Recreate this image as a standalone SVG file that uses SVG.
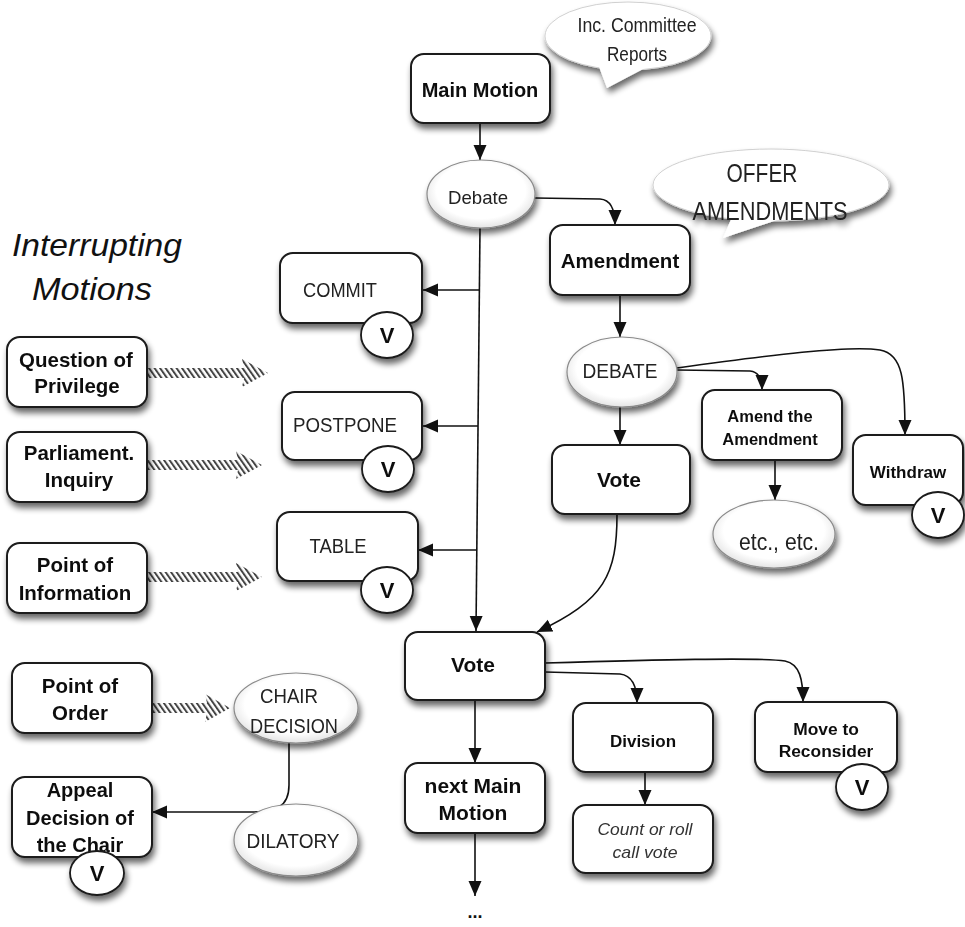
<svg xmlns="http://www.w3.org/2000/svg" width="965" height="927" viewBox="0 0 965 927">
<defs>
<filter id="sh" x="-20%" y="-20%" width="150%" height="160%">
<feGaussianBlur in="SourceAlpha" stdDeviation="3"/>
<feOffset dx="2" dy="5" result="o"/>
<feComponentTransfer><feFuncA type="linear" slope="0.6"/></feComponentTransfer>
<feMerge><feMergeNode/><feMergeNode in="SourceGraphic"/></feMerge>
</filter>
<radialGradient id="eg" cx="50%" cy="45%" r="55%">
<stop offset="0.75" stop-color="#ffffff"/>
<stop offset="1" stop-color="#e4e4e4"/>
</radialGradient>
<pattern id="hatch" patternUnits="userSpaceOnUse" width="4.5" height="4.5" patternTransform="rotate(-35)">
<rect x="0" y="0" width="2" height="4.5" fill="#444"/>
</pattern>
<marker id="ah" markerUnits="userSpaceOnUse" markerWidth="16" markerHeight="14" refX="15" refY="6.5" orient="auto">
<path d="M0,0 L15,6.5 L0,13 z" fill="#111"/>
</marker>
<style>
.box{fill:#fff;stroke:#1a1a1a;stroke-width:2}
.ell{fill:url(#eg);stroke:#8a8a8a;stroke-width:1.2}
.bub{fill:#fff;stroke:#d0d0d0;stroke-width:1}
.vc{fill:#fff;stroke:#1a1a1a;stroke-width:1.8}
.b{font-family:"Liberation Sans",Arial,sans-serif;font-weight:bold;fill:#111;text-anchor:middle}
.r{font-family:"Liberation Sans",Arial,sans-serif;fill:#222;text-anchor:middle}
.i{font-family:"Liberation Sans",Arial,sans-serif;font-style:italic;fill:#333;text-anchor:middle}
.v{font-family:"Liberation Sans",Arial,sans-serif;font-weight:bold;fill:#111;text-anchor:middle;font-size:22px}
.ca{fill:none;stroke:#111;stroke-width:1.6;marker-end:url(#ah)}
.h{fill:url(#hatch)}
</style>
</defs>
<rect width="965" height="927" fill="#fff"/>

<g id="title">
<text class="i" x="97" y="256" font-size="32" textLength="170" lengthAdjust="spacingAndGlyphs" style="fill:#111">Interrupting</text>
<text class="i" x="92" y="300" font-size="32" textLength="120" lengthAdjust="spacingAndGlyphs" style="fill:#111">Motions</text>
</g>

<g id="connectors">
<path class="ca" d="M480,123 L480,160"/>
<path class="ca" d="M535,198 L600,199 Q615,200 615,225"/>
<path class="ca" d="M480,228 L476,631"/>
<path class="ca" d="M479,290 L423,290"/>
<path class="ca" d="M478,426 L423,426"/>
<path class="ca" d="M477,550 L418,550"/>
<path class="ca" d="M620,295 L620,337"/>
<path class="ca" d="M620,407 L620,445"/>
<path class="ca" d="M677,370 L750,371 Q762,372 762,390"/>
<path class="ca" d="M677,368 C770,355 850,345 880,350 C903,354 905,380 905,435"/>
<path class="ca" d="M775,460 L775,500"/>
<path class="ca" d="M617,514 C617,575 605,600 537,632"/>
<path class="ca" d="M475,700 L475,763"/>
<path class="ca" d="M475,833 L475,896"/>
<path class="ca" d="M545,672 L620,674 Q637,676 637,703"/>
<path class="ca" d="M545,663 C650,660 760,657 785,661 C800,664 803,680 803,702"/>
<path class="ca" d="M645,772 L645,805"/>
<path class="ca" d="M289,743 L289,785 C289,808 275,812 250,812 L152,812"/>
<polygon class="h" points="148,368 244,368 242,359 268,373 242,387 244,378 148,378"/>
<polygon class="h" points="148,460 238,460 236,451 262,465 236,479 238,470 148,470"/>
<polygon class="h" points="148,572 238,572 236,563 262,577 236,591 238,582 148,582"/>
<polygon class="h" points="153,703 207,703 205,694 230,708 205,722 207,713 153,713"/>
</g>

<g id="inc-committee" filter="url(#sh)">
<ellipse class="bub" cx="628" cy="36" rx="83" ry="34"/>
<polygon points="598,64 607,88 645,68" fill="#fff"/>
<text class="r" x="637" y="32" font-size="21" textLength="119" lengthAdjust="spacingAndGlyphs">Inc. Committee</text>
<text class="r" x="637" y="61" font-size="21" textLength="60" lengthAdjust="spacingAndGlyphs">Reports</text>
</g>

<g id="main-motion" filter="url(#sh)">
<rect class="box" x="411" y="54" width="139" height="69" rx="13"/>
<text class="b" x="480" y="97" font-size="20">Main Motion</text>
</g>

<g id="debate" filter="url(#sh)">
<ellipse class="ell" cx="481" cy="194" rx="54" ry="34"/>
<text class="r" x="478" y="204" font-size="19" textLength="60" lengthAdjust="spacingAndGlyphs">Debate</text>
</g>

<g id="offer-amendments" filter="url(#sh)">
<ellipse class="bub" cx="771" cy="185" rx="118" ry="36"/>
<polygon points="733,215 723,238 780,219" fill="#fff"/>
<text class="r" x="762" y="182" font-size="26" textLength="71" lengthAdjust="spacingAndGlyphs">OFFER</text>
<text class="r" x="770" y="220" font-size="26" textLength="155" lengthAdjust="spacingAndGlyphs">AMENDMENTS</text>
</g>

<g id="amendment" filter="url(#sh)">
<rect class="box" x="550" y="225" width="140" height="70" rx="13"/>
<text class="b" x="620" y="268" font-size="20.5">Amendment</text>
</g>

<g id="commit" filter="url(#sh)">
<rect class="box" x="280" y="253" width="142" height="70" rx="13"/>
<text class="r" x="340" y="297" font-size="20" textLength="74" lengthAdjust="spacingAndGlyphs">COMMIT</text>
<ellipse class="vc" cx="387" cy="335" rx="26" ry="23"/>
<text class="v" x="387" y="343">V</text>
</g>

<g id="postpone" filter="url(#sh)">
<rect class="box" x="282" y="392" width="140" height="68" rx="13"/>
<text class="r" x="345" y="432" font-size="20" textLength="104" lengthAdjust="spacingAndGlyphs">POSTPONE</text>
<ellipse class="vc" cx="388" cy="469" rx="26" ry="23"/>
<text class="v" x="388" y="477">V</text>
</g>

<g id="table" filter="url(#sh)">
<rect class="box" x="277" y="512" width="141" height="69" rx="13"/>
<text class="r" x="338" y="553" font-size="20" textLength="57" lengthAdjust="spacingAndGlyphs">TABLE</text>
<ellipse class="vc" cx="387" cy="590" rx="26" ry="23"/>
<text class="v" x="387" y="598">V</text>
</g>

<g id="question-of-privilege" filter="url(#sh)">
<rect class="box" x="7" y="337" width="140" height="70" rx="13"/>
<text class="b" x="76" y="367" font-size="20.5">Question of</text>
<text class="b" x="77" y="393" font-size="20.5">Privilege</text>
</g>

<g id="parliament-inquiry" filter="url(#sh)">
<rect class="box" x="7" y="432" width="140" height="70" rx="13"/>
<text class="b" x="79" y="460" font-size="20.5">Parliament.</text>
<text class="b" x="79" y="487" font-size="20.5">Inquiry</text>
</g>

<g id="point-of-information" filter="url(#sh)">
<rect class="box" x="7" y="543" width="140" height="70" rx="13"/>
<text class="b" x="75" y="572" font-size="20.5">Point of</text>
<text class="b" x="75" y="600" font-size="20.5">Information</text>
</g>

<g id="debate-amendment" filter="url(#sh)">
<ellipse class="ell" cx="622" cy="372" rx="55" ry="35"/>
<text class="r" x="620" y="378" font-size="20" textLength="75" lengthAdjust="spacingAndGlyphs">DEBATE</text>
</g>

<g id="vote-amendment" filter="url(#sh)">
<rect class="box" x="552" y="445" width="138" height="69" rx="13"/>
<text class="b" x="619" y="487" font-size="21">Vote</text>
</g>

<g id="amend-the-amendment" filter="url(#sh)">
<rect class="box" x="702" y="390" width="140" height="70" rx="13"/>
<text class="b" x="770" y="422" font-size="16.5">Amend the</text>
<text class="b" x="770" y="445" font-size="16.5">Amendment</text>
</g>

<g id="withdraw" filter="url(#sh)">
<rect class="box" x="853" y="435" width="110" height="70" rx="13"/>
<text class="b" x="908" y="478" font-size="17">Withdraw</text>
<ellipse class="vc" cx="938" cy="515" rx="26" ry="23"/>
<text class="v" x="938" y="523">V</text>
</g>

<g id="etc" filter="url(#sh)">
<ellipse class="ell" cx="774" cy="534" rx="61" ry="34"/>
<text class="r" x="779" y="550" font-size="24" textLength="80" lengthAdjust="spacingAndGlyphs">etc., etc.</text>
</g>

<g id="vote" filter="url(#sh)">
<rect class="box" x="405" y="632" width="140" height="68" rx="13"/>
<text class="b" x="473" y="672" font-size="21">Vote</text>
</g>

<g id="division" filter="url(#sh)">
<rect class="box" x="573" y="703" width="140" height="69" rx="13"/>
<text class="b" x="643" y="747" font-size="17">Division</text>
</g>

<g id="count-or-roll-call" filter="url(#sh)">
<rect class="box" x="573" y="805" width="140" height="68" rx="13"/>
<text class="i" x="645" y="835" font-size="17" textLength="95" lengthAdjust="spacingAndGlyphs">Count or roll</text>
<text class="i" x="645" y="858" font-size="17" textLength="65" lengthAdjust="spacingAndGlyphs">call vote</text>
</g>

<g id="move-to-reconsider" filter="url(#sh)">
<rect class="box" x="755" y="702" width="142" height="70" rx="13"/>
<text class="b" x="826" y="735" font-size="17.4">Move to</text>
<text class="b" x="826" y="757" font-size="17.4">Reconsider</text>
<ellipse class="vc" cx="862" cy="787" rx="26" ry="23"/>
<text class="v" x="862" y="795">V</text>
</g>

<g id="next-main-motion" filter="url(#sh)">
<rect class="box" x="405" y="763" width="140" height="70" rx="13"/>
<text class="b" x="473" y="793" font-size="21">next Main</text>
<text class="b" x="473" y="820" font-size="21">Motion</text>
</g>

<g id="ellipsis">
<text class="b" x="475" y="918" font-size="18">...</text>
</g>

<g id="point-of-order" filter="url(#sh)">
<rect class="box" x="12" y="663" width="140" height="70" rx="13"/>
<text class="b" x="80" y="693" font-size="20.5">Point of</text>
<text class="b" x="80" y="720" font-size="20.5">Order</text>
</g>

<g id="chair-decision" filter="url(#sh)">
<ellipse class="ell" cx="296" cy="708" rx="62" ry="35"/>
<text class="r" x="289" y="703" font-size="20" textLength="58" lengthAdjust="spacingAndGlyphs">CHAIR</text>
<text class="r" x="294" y="733" font-size="20" textLength="88" lengthAdjust="spacingAndGlyphs">DECISION</text>
</g>

<g id="appeal" filter="url(#sh)">
<rect class="box" x="12" y="777" width="140" height="80" rx="13"/>
<text class="b" x="80" y="797" font-size="20">Appeal</text>
<text class="b" x="80" y="825" font-size="20">Decision of</text>
<text class="b" x="80" y="852" font-size="20">the Chair</text>
<ellipse class="vc" cx="97" cy="873" rx="27" ry="22"/>
<text class="v" x="97" y="881">V</text>
</g>

<g id="dilatory" filter="url(#sh)">
<ellipse class="ell" cx="296" cy="840" rx="62" ry="36"/>
<text class="r" x="293" y="848" font-size="20" textLength="93" lengthAdjust="spacingAndGlyphs">DILATORY</text>
</g>
</svg>
